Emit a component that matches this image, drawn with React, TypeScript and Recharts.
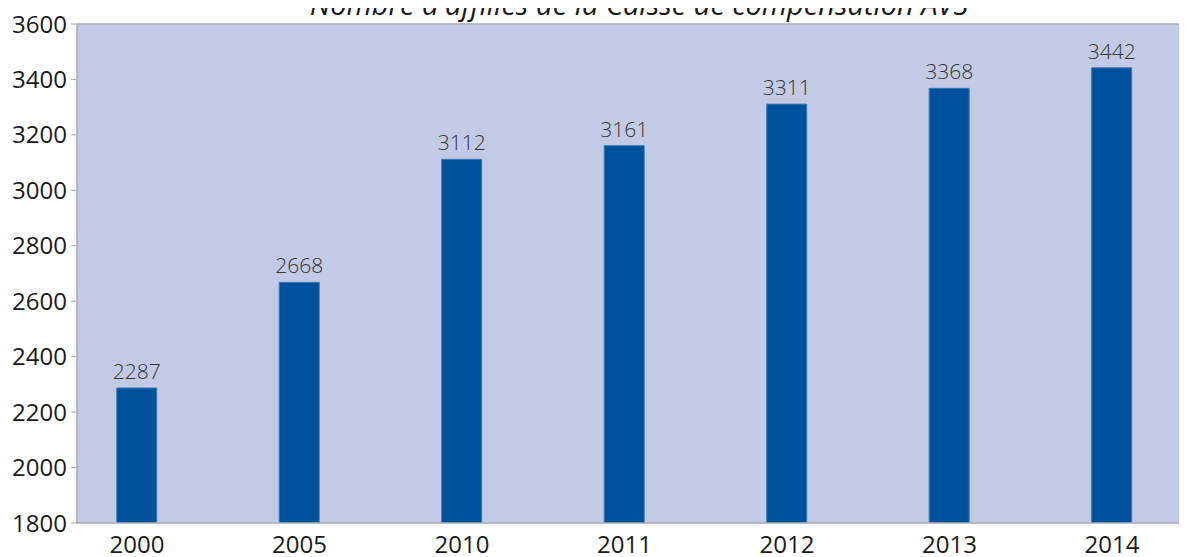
import React from "react";
import {
  BarChart,
  Bar,
  XAxis,
  YAxis,
  CartesianGrid,
  ReferenceLine,
  LabelList,
} from "recharts";

const years = ["2000", "2005", "2010", "2011", "2012", "2013", "2014"];
const affiliates = [2287, 2668, 3112, 3161, 3311, 3368, 3442];
const yTicks = [1800, 2000, 2200, 2400, 2600, 2800, 3000, 3200, 3400, 3600];

const data = years.map((year, i) => ({ idx: i, year, value: affiliates[i] }));

const FONT = "'Open Sans', 'Noto Sans', sans-serif";
const AXIS_GRAY = "#A6AAB6";

export default function App() {
  // wrapper pulled back over the body margin so the chart sits at the page corner
  return (
    <div
      style={{
        position: "relative",
        margin: "-8px 0 0 -8px",
        width: 1187,
        height: 557,
        overflow: "hidden",
      }}
    >
      <BarChart
        width={1187}
        height={557}
        data={data}
        margin={{ top: 24, right: 0, left: 0, bottom: 0 }}
      >
        <CartesianGrid horizontal={false} vertical={false} fill="#C3CAE5" />
        <XAxis
          dataKey="idx"
          type="number"
          domain={[-0.369, 6.462]}
          allowDataOverflow
          ticks={[0, 1, 2, 3, 4, 5, 6]}
          tickFormatter={(i) => years[i]}
          height={34}
          tickLine={false}
          tickSize={6}
          tickMargin={7}
          axisLine={{ stroke: AXIS_GRAY, strokeWidth: 1.5 }}
          tick={{ fontSize: 24, fill: "#1a1a1a", fontFamily: FONT }}
        />
        <YAxis
          domain={[1800, 3600]}
          ticks={yTicks}
          allowDataOverflow
          width={77}
          tickSize={6}
          tickMargin={4}
          tickLine={{ stroke: AXIS_GRAY }}
          axisLine={{ stroke: AXIS_GRAY, strokeWidth: 1.5 }}
          tick={{ fontSize: 24, fill: "#1a1a1a", fontFamily: FONT }}
        />
        <ReferenceLine y={3600} stroke={AXIS_GRAY} strokeWidth={1.5} />
        <Bar
          dataKey="value"
          barSize={40}
          fill="#00519B"
          stroke="#3D78B8"
          strokeWidth={1}
          isAnimationActive={false}
        >
          <LabelList
            dataKey="value"
            position="top"
            offset={9}
            style={{ fontSize: 21, fill: "#333333", fontFamily: FONT, fontWeight: 300 }}
          />
        </Bar>
      </BarChart>
      {/* title, cut off at the top edge like the source image */}
      <div
        style={{
          position: "absolute",
          left: 0,
          top: -11,
          width: 1278,
          textAlign: "center",
          fontFamily: FONT,
          fontStyle: "italic",
          fontSize: 29,
          lineHeight: "29px",
          color: "#1a1a1a",
          whiteSpace: "nowrap",
          pointerEvents: "none",
        }}
      >
        Nombre d'affiliés de la Caisse de compensation AVS
      </div>
    </div>
  );
}
